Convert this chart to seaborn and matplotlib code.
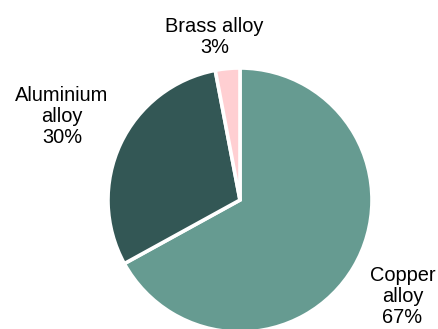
import numpy as np
import matplotlib
matplotlib.use("Agg")
import matplotlib.pyplot as plt
import seaborn as sns

# Share of each alloy
categories = ["Copper\nalloy", "Aluminium\nalloy", "Brass alloy"]
shares = [67, 30, 3]
colors = ["#669b91", "#335755", "#ffcfd2"]
label_dist = [1.43, 1.49, 1.25]
label_turn = [0.0, 0.0, 3.5]  # extra rotation (degrees) of each label around the centre

sns.set_theme(style="white")
plt.rcParams["font.family"] = ["Liberation Sans", "DejaVu Sans"]

fig = plt.figure(figsize=(4.38, 3.29), dpi=100)
ax = fig.add_axes([0, 0, 1, 1])

wedges, texts = ax.pie(
    shares,
    colors=colors,
    startangle=90,
    counterclock=False,
    radius=1.0,
    labels=[f"{c}\n{v}%" for c, v in zip(categories, shares)],
    wedgeprops=dict(edgecolor="white", linewidth=2.6),
    textprops=dict(fontsize=14.4, color="black", linespacing=1.13),
)

for w, t, d, turn in zip(wedges, texts, label_dist, label_turn):
    ang = np.deg2rad((w.theta1 + w.theta2) / 2 + turn)
    t.set_position((d * np.cos(ang), d * np.sin(ang)))
    t.set_ha("center")
    t.set_va("center")

ax.set_aspect("auto")
ax.set_xlim(-1.818, 1.5)
ax.set_ylim(-0.977, 1.515)
ax.axis("off")

fig.savefig("out.png", dpi=100)
